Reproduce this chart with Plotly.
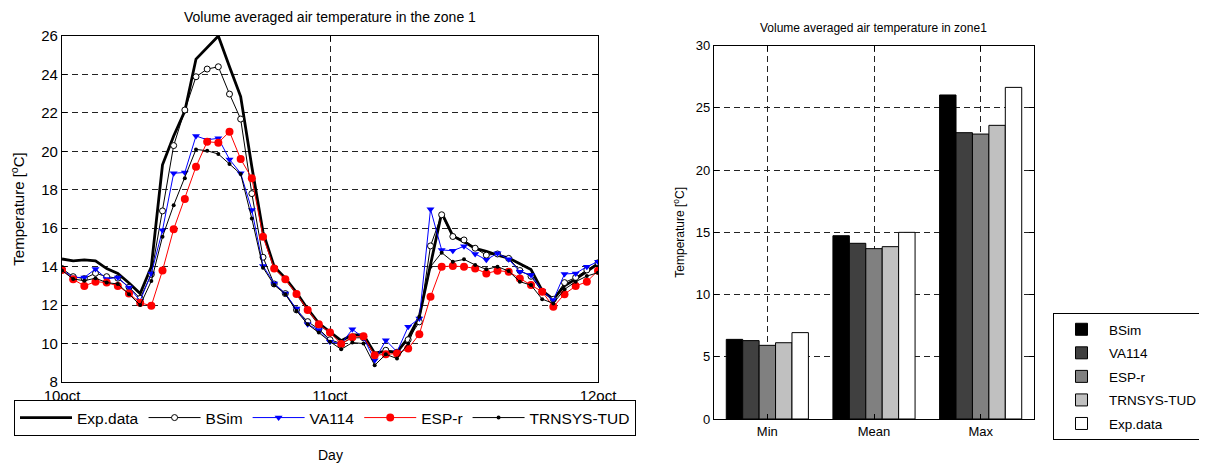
import plotly.graph_objects as go
from plotly.subplots import make_subplots

# page is 1207x466; the html body has an 8px margin
W, H = 1199, 458
OFF = 8


def px_x(x):
    return (x - OFF) / W


def px_y(y):
    return 1 - (y - OFF) / H


# hourly samples from 10oct 00:00 to 12oct 00:00
hours = list(range(49))
day_ticks = [0, 24, 48]
day_labels = ["10oct", "11oct", "12oct"]

exp_data = [14.4, 14.3, 14.35, 14.3, 13.9, 13.65, 13.15, 12.6, 14.0, 19.3,
            20.8, 22.1, 24.8, 25.4, 26.0, 24.4, 22.85, 19.2, 15.8, 14.0,
            13.4, 12.65, 11.8, 11.05, 10.6, 10.15, 10.45, 10.45, 9.5, 9.6,
            9.55, 10.3, 11.4, 14.1, 16.8, 15.6, 15.3, 14.95, 14.8, 14.6,
            14.45, 14.15, 13.85, 12.75, 12.3, 13.0, 13.35, 13.75, 14.15]
bsim = [13.9, 13.48, 13.38, 13.66, 13.48, 13.4, 12.93, 12.35, 13.6, 16.9,
        20.3, 22.15, 23.88, 24.28, 24.4, 22.98, 21.68, 17.8, 14.49, 13.1,
        12.6, 11.75, 11.14, 10.75, 10.2, 10.0, 10.3, 10.3, 9.4, 9.65,
        9.55, 10.2, 11.13, 15.08, 16.7, 15.57, 15.39, 14.96, 14.6, 14.66,
        14.43, 13.8, 13.5, 12.7, 12.3, 13.17, 13.44, 13.83, 14.2]
va114 = [13.83, 13.44, 13.44, 13.88, 13.36, 13.44, 12.92, 12.23, 13.65, 15.9,
         18.86, 18.9, 20.8, 20.6, 20.68, 19.58, 18.86, 16.95, 14.04, 13.13,
         12.6, 11.83, 11.0, 10.7, 10.1, 9.98, 10.74, 10.3, 9.13, 10.17,
         9.57, 10.87, 11.3, 16.99, 14.87, 14.83, 15.06, 14.66, 14.36, 14.7,
         14.38, 13.74, 13.57, 12.75, 12.26, 13.62, 13.65, 14.0, 14.26]
esp_r = [13.83, 13.34, 13.0, 13.22, 13.17, 13.0, 12.6, 12.12, 11.97, 13.8,
         15.95, 17.52, 19.2, 20.5, 20.45, 21.02, 19.6, 18.6, 15.56, 13.9,
         13.34, 12.58, 11.75, 11.0, 10.57, 9.98, 10.33, 10.38, 9.39, 9.44,
         9.48, 9.74, 10.49, 12.43, 14.0, 14.03, 14.0, 13.91, 13.65, 13.79,
         13.74, 13.39, 13.04, 12.7, 11.91, 12.57, 12.99, 13.22, 13.79]
trnsys = [13.8, 13.36, 13.27, 13.4, 13.17, 13.1, 12.57, 12.0, 13.25, 15.56,
          17.2, 18.6, 20.1, 20.03, 19.86, 19.34, 18.82, 16.5, 13.95, 13.05,
          12.56, 11.7, 11.0, 10.57, 10.1, 9.7, 10.05, 10.0, 8.87, 9.44,
          9.22, 10.0, 11.4, 14.0, 14.73, 14.26, 14.38, 14.09, 13.86, 14.0,
          13.77, 13.22, 13.04, 12.31, 12.09, 12.82, 13.22, 13.51, 13.69]

# bar chart: summary statistics
stats = ["Min", "Mean", "Max"]
bar_bsim = [6.4, 14.73, 26.04]
bar_va114 = [6.3, 14.12, 23.01]
bar_esp_r = [5.92, 13.69, 22.9]
bar_trnsys = [6.13, 13.85, 23.6]
bar_exp = [6.94, 15.0, 26.65]

FONT = "Liberation Sans, Arial, sans-serif"

fig = make_subplots(rows=1, cols=2)

# left: time series
fig.add_trace(go.Scatter(x=hours, y=exp_data, name="Exp.data", mode="lines",
                         line=dict(color="black", width=2.8), legend="legend"), 1, 1)
fig.add_trace(go.Scatter(x=hours, y=bsim, name="BSim", mode="lines+markers",
                         line=dict(color="black", width=1),
                         marker=dict(symbol="circle", size=6, color="white",
                                     line=dict(color="black", width=1)),
                         legend="legend"), 1, 1)
fig.add_trace(go.Scatter(x=hours, y=va114, name="VA114", mode="lines+markers",
                         line=dict(color="#0000ff", width=1),
                         marker=dict(symbol="triangle-down", size=7, color="#0000ff"),
                         legend="legend"), 1, 1)
fig.add_trace(go.Scatter(x=hours, y=esp_r, name="ESP-r", mode="lines+markers",
                         line=dict(color="#ff0000", width=1),
                         marker=dict(symbol="circle", size=8, color="#ff0000"),
                         legend="legend"), 1, 1)
fig.add_trace(go.Scatter(x=hours, y=trnsys, name="TRNSYS-TUD", mode="lines+markers",
                         line=dict(color="black", width=1),
                         marker=dict(symbol="circle", size=4, color="black"),
                         legend="legend"), 1, 1)

# right: bars
bar_series = [("BSim", bar_bsim, "#000000"), ("VA114", bar_va114, "#404040"),
              ("ESP-r", bar_esp_r, "#808080"), ("TRNSYS-TUD", bar_trnsys, "#c0c0c0"),
              ("Exp.data", bar_exp, "#ffffff")]
for name, vals, col in bar_series:
    fig.add_trace(go.Bar(x=stats, y=vals, name=name, marker=dict(color=col, line=dict(color="black", width=1)),
                         legend="legend2", legendgroup=name), 1, 2)

grid = dict(showgrid=True, gridcolor="#222", griddash="6px,4px", gridwidth=1)
frame = dict(showline=True, linecolor="black", linewidth=1.2, mirror="ticks",
             ticks="inside", ticklen=5, tickcolor="black", zeroline=False, automargin=False)

fig.update_xaxes(domain=[px_x(62), px_x(598)], range=[0, 48], tickvals=day_ticks, ticktext=day_labels,
                 tickfont=dict(size=15, color="black"), **grid, **frame, row=1, col=1)
fig.update_yaxes(domain=[px_y(382), px_y(36)], range=[8, 26], dtick=2,
                 tickfont=dict(size=15, color="black"),
                 title=dict(text="Temperature [<sup>o</sup>C]", font=dict(size=15, color="black"), standoff=13),
                 **grid, **frame, row=1, col=1)

fig.update_xaxes(domain=[px_x(714), px_x(1034)], range=[-0.5, 2.5],
                 tickfont=dict(size=13, color="black"), **grid, **frame, row=1, col=2)
fig.update_yaxes(domain=[px_y(419), px_y(45.7)], range=[0, 30], dtick=5,
                 tickfont=dict(size=13, color="black"),
                 title=dict(text="Temperature [<sup>o</sup>C]", font=dict(size=12, color="black"), standoff=8),
                 **grid, **frame, row=1, col=2)

fig.update_layout(
    width=W, height=H,
    margin=dict(l=0, r=0, t=0, b=0),
    paper_bgcolor="white", plot_bgcolor="white",
    font=dict(family=FONT, color="black"),
    barmode="group", bargap=0.23, bargroupgap=0,
    legend=dict(orientation="h", x=px_x(14), xanchor="left", y=px_y(400), yanchor="top",
                bordercolor="black", borderwidth=1, bgcolor="white",
                font=dict(size=15.5), itemwidth=52),
    legend2=dict(orientation="v", x=px_x(1053), xanchor="left", y=px_y(313), yanchor="top",
                 bordercolor="black", borderwidth=1, bgcolor="white",
                 font=dict(size=13.5), tracegroupgap=3, itemwidth=45),
    annotations=[
        dict(text="Volume averaged air temperature in the zone 1", x=px_x(330), y=px_y(17),
             xref="paper", yref="paper", xanchor="center", yanchor="middle",
             showarrow=False, font=dict(size=14)),
        dict(text="Volume averaged air temperature in zone1", x=px_x(874), y=px_y(28),
             xref="paper", yref="paper", xanchor="center", yanchor="middle",
             showarrow=False, font=dict(size=12)),
        dict(text="Day", x=px_x(330), y=px_y(455), xref="paper", yref="paper",
             xanchor="center", yanchor="middle", showarrow=False, font=dict(size=14)),
    ],
)

fig.write_html("out.html")
